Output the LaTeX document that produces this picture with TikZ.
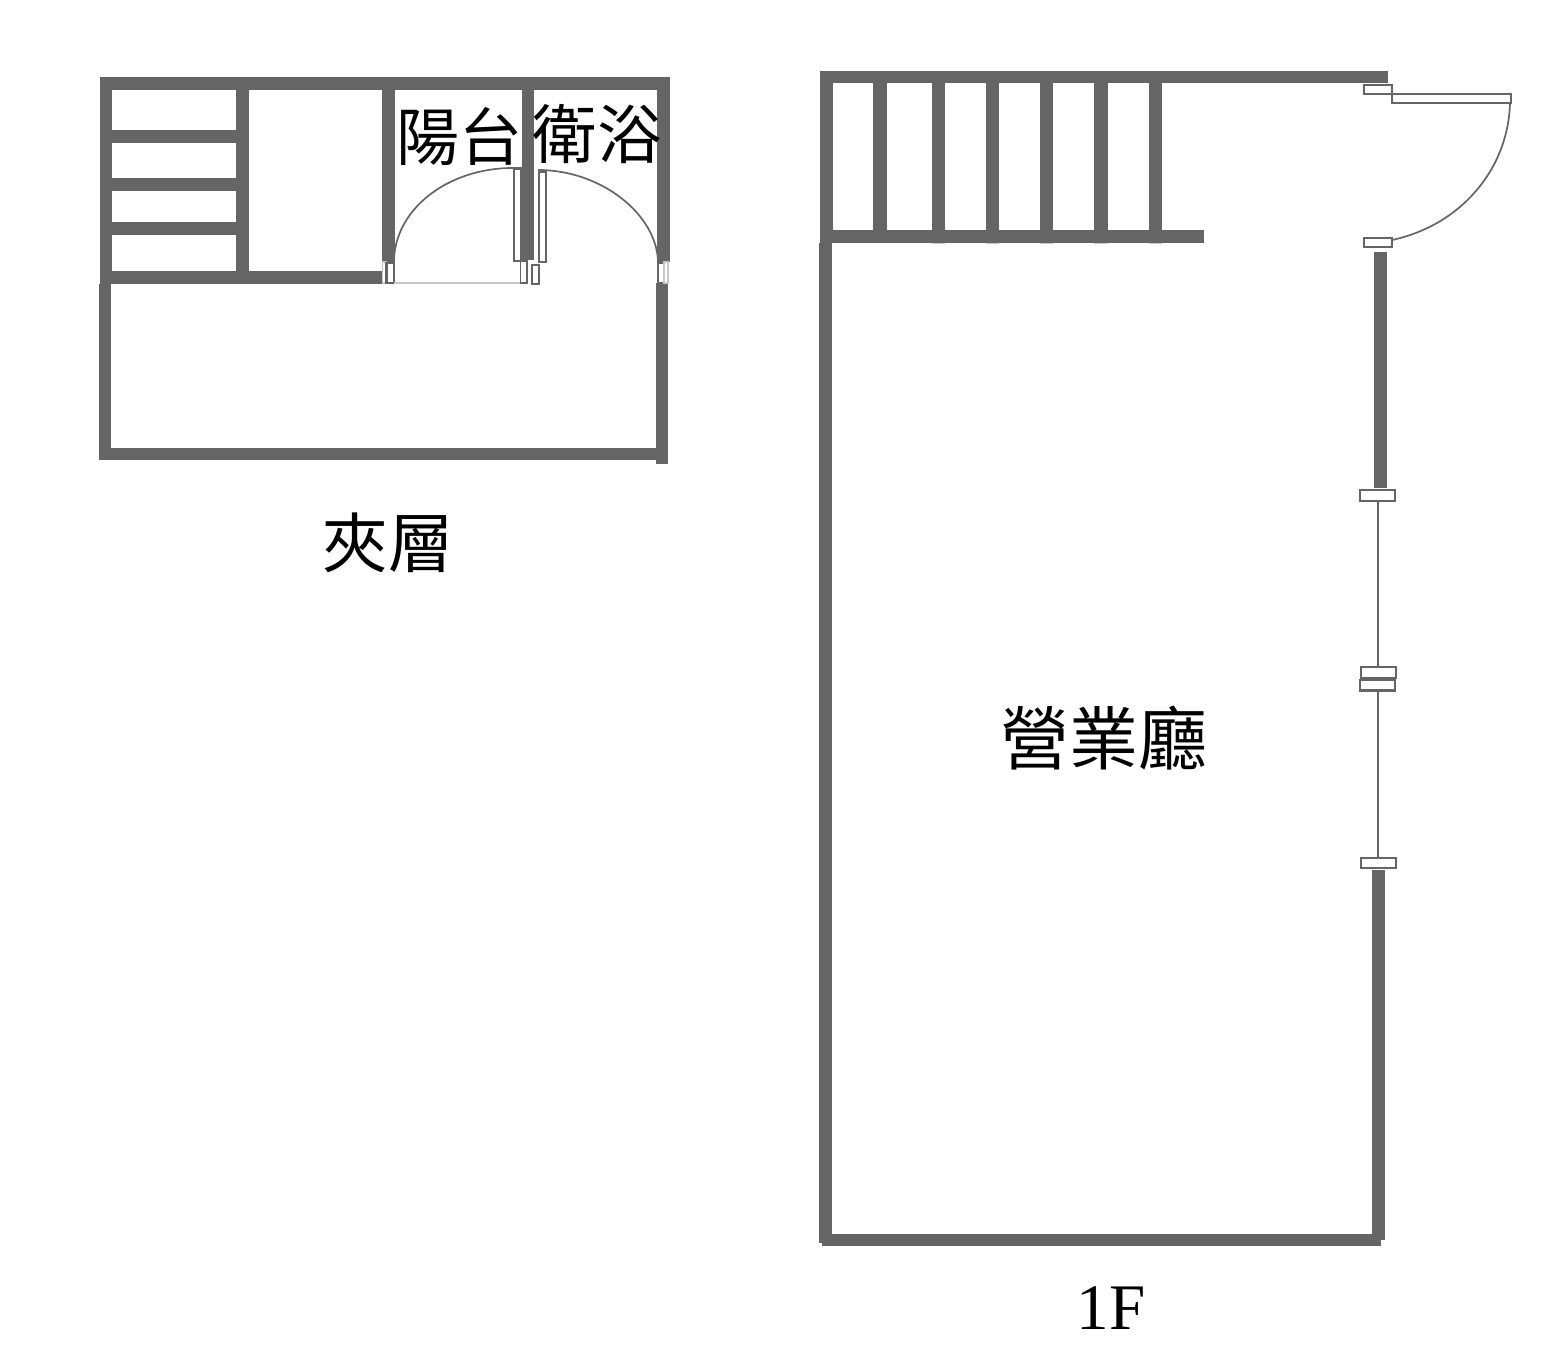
\documentclass[tikz,border=0pt]{standalone}
\usepackage{fontspec}
\setmainfont{Liberation Serif}
\newfontfamily\cjk{Noto Sans CJK TC}
\definecolor{wallgray}{HTML}{656565}
\definecolor{dashgray}{HTML}{C8C8C8}
\tikzset{
  wall/.style={fill=wallgray,draw=none},
  jamb/.style={fill=white,draw=wallgray,line width=1.2pt},
  swing/.style={draw=wallgray,line width=0.85pt},
  thin/.style={draw=wallgray,line width=1.2pt},
  faint/.style={draw=dashgray,line width=0.7pt},
  cjklabel/.style={inner sep=0pt,font=\cjk\fontsize{#1}{#1}\selectfont},
  latinlabel/.style={inner sep=0pt,font=\fontsize{32.5}{32.5}\selectfont}
}
\begin{document}
\begin{tikzpicture}[x=0.5pt,y=-0.5pt]
\useasboundingbox (0,0) rectangle (1558,1368);
\fill[white] (0,0) rectangle (1558,1368);
% ---------- left plan (mezzanine) ----------
\fill[wall] (100,77) rectangle (670,90);
\fill[wall] (100,77) rectangle (112,284);
\fill[wall] (99,284) rectangle (111,460);
\fill[wall] (99,448) rectangle (668,460);
\fill[wall] (657,77) rectangle (670,262);
\fill[wall] (656,283) rectangle (668,464);
\fill[wall] (236,90) rectangle (249,284);
\fill[wall] (112,130) rectangle (236,143);
\fill[wall] (112,178) rectangle (248,191);
\fill[wall] (112,222) rectangle (248,235);
\fill[wall] (112,271) rectangle (382,284);
\fill[wall] (382,90) rectangle (395,262);
\fill[wall] (522,90) rectangle (534,260);
% doors
\draw[swing] (394,262) .. controls (394,210) and (447,168) .. (513,168);
\draw[swing] (538,170) .. controls (602,170) and (657,215) .. (658,262);
\draw[jamb] (514,168.5) rectangle (521,261);
\draw[jamb] (539,171.5) rectangle (546,262);
\draw[faint] (382.5,262) rectangle (386,283);
\draw[jamb] (386.5,263) rectangle (394,283);
\draw[faint] (394,283) -- (520,283);
\draw[jamb,line width=0.7pt] (520.5,261) rectangle (527,283);
\draw[jamb] (532,265) rectangle (539,284);
\draw[jamb] (658,263) rectangle (664,283);
\draw[faint] (664,262) rectangle (668,283);
% labels
\node[cjklabel=31.5] (balcony) at (459,136) {陽台};
\node[cjklabel=32.2] (bath) at (597,134) {衛浴};
\node[cjklabel=32.7] (mezz) at (388,543) {夾層};
% ---------- right plan (1F) ----------
\fill[wall] (820,71) rectangle (1388,83);
\fill[wall] (820,71) rectangle (833,243);
\fill[wall] (819,243) rectangle (832,1243);
\fill[wall] (833,230) rectangle (1204,243);
\foreach \bx/\ex in {873/887,932/945,986/999,1040/1053,1094/1108,1149/1162}
  \fill[wall] (\bx,83) rectangle (\ex,230);
\foreach \bx/\ex in {932/945,986/999,1040/1053,1094/1108,1149/1162}
  \fill[dashgray] (\bx,243) rectangle (\ex,244.5);
\fill[wall] (1374,252) rectangle (1387,488);
\fill[wall] (1372,870) rectangle (1385,1240);
\fill[wall] (822,1234) rectangle (1381,1246);
% front door
\draw[swing] (1510,103) .. controls (1508,172) and (1458,226) .. (1392,240);
\draw[jamb] (1364,85) rectangle (1392,94);
\draw[jamb] (1392,94) rectangle (1511,103);
\draw[jamb] (1364,238) rectangle (1392,247);
% window
\draw[thin] (1378,502) -- (1378,666);
\draw[thin] (1378,691) -- (1378,857);
\draw[jamb] (1360,490) rectangle (1395,501);
\draw[jamb] (1361,667) rectangle (1396,678);
\draw[jamb] (1360,680) rectangle (1395,690.5);
\draw[jamb] (1361,858) rectangle (1396,868);
% labels
\node[cjklabel=34.5] (hall) at (1104,738) {營業廳};
\node[latinlabel] (onef) at (1111,1308) {1F};
\end{tikzpicture}
\end{document}
